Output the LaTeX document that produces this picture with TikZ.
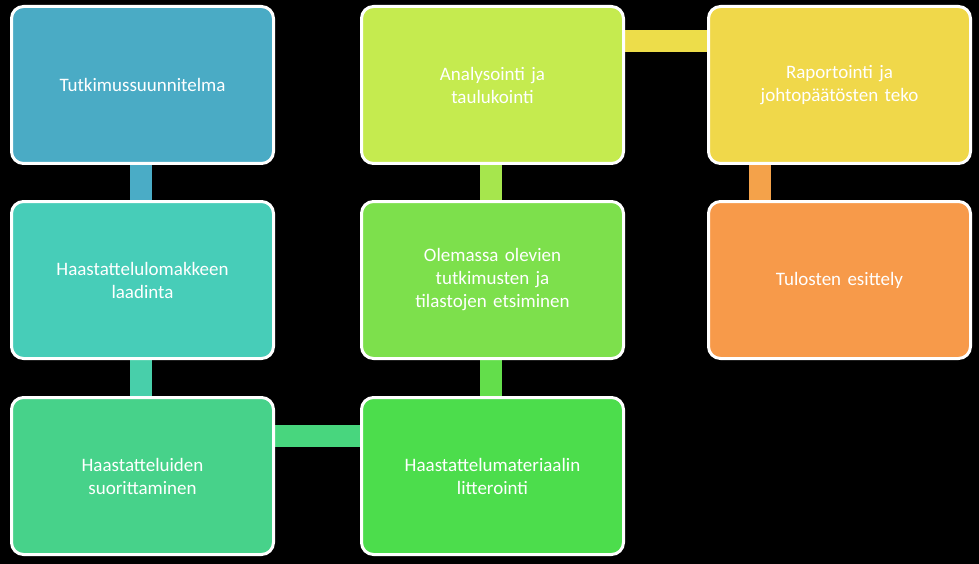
\documentclass[tikz,border=0pt]{standalone}
\usepackage{fontspec}
\setmainfont{Carlito}
\begin{document}
\begin{tikzpicture}[x=1pt,y=-1pt,
  box/.style={draw=white,line width=3pt,rounded corners=12pt,minimum width=262pt,minimum height=157pt,text width=240pt,align=center,text=white,font=\fontsize{19}{23}\selectfont,anchor=north west},
  bar/.style={line width=22pt}]
\fill[black] (0,0) rectangle (979,564);
\useasboundingbox (0,0) rectangle (979,564);
\definecolor{c1}{HTML}{4AABC5}\definecolor{c2}{HTML}{47CDB8}\definecolor{c3}{HTML}{47D28A}
\definecolor{c4}{HTML}{4CDD4C}\definecolor{c5}{HTML}{7DE04C}\definecolor{c6}{HTML}{C5EB4F}
\definecolor{c7}{HTML}{F0D84A}\definecolor{c8}{HTML}{F79A4A}
\definecolor{k1}{HTML}{4AACC6}\definecolor{k2}{HTML}{48CFAA}\definecolor{k3}{HTML}{48D67E}
\definecolor{k4}{HTML}{63DE4B}\definecolor{k5}{HTML}{A6E64D}\definecolor{k6}{HTML}{EDDD4A}\definecolor{k7}{HTML}{F4A24A}
\coordinate (a1) at (141,160); \coordinate (a2) at (141,202);
\coordinate (b1) at (141,355); \coordinate (b2) at (141,397);
\coordinate (c1p) at (270,436); \coordinate (c2p) at (362,436);
\coordinate (d1) at (491,397); \coordinate (d2) at (491,355);
\coordinate (e1) at (491,202); \coordinate (e2) at (491,160);
\coordinate (f1) at (620,41); \coordinate (f2) at (709,41);
\coordinate (g1) at (760,160); \coordinate (g2) at (760,202);
\draw[bar,k1] (a1)--(a2); \draw[bar,k2] (b1)--(b2); \draw[bar,k3] (c1p)--(c2p);
\draw[bar,k4] (d1)--(d2); \draw[bar,k5] (e1)--(e2); \draw[bar,k6] (f1)--(f2); \draw[bar,k7] (g1)--(g2);
\node[box,fill=c1] (n1) at (10,5) {Tutkimussuunnitelma};
\node[box,fill=c2] (n2) at (10,200) {Haastattelulomakkeen\\laadinta};
\node[box,fill=c3] (n3) at (10,396) {Haastatteluiden\\suorittaminen};
\node[box,fill=c4] (n4) at (360,396) {Haastattelumateriaalin\\litterointi};
\node[box,fill=c5] (n5) at (360,200) {Olemassa olevien\\tutkimusten ja\\tilastojen etsiminen};
\node[box,fill=c6] (n6) at (360,5) {Analysointi ja\\taulukointi};
\node[box,fill=c7] (n7) at (707,5) {Raportointi ja\\johtopäätösten teko};
\node[box,fill=c8] (n8) at (707,200) {Tulosten esittely};
\end{tikzpicture}
\end{document}
